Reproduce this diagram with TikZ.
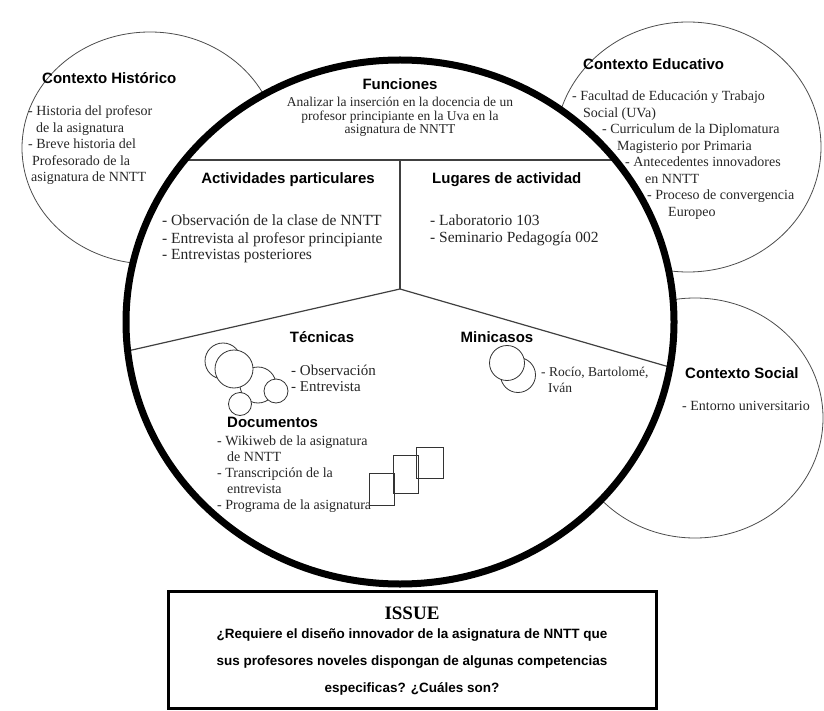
\documentclass[tikz,border=0pt]{standalone}
\usepackage{fontspec}
\setmainfont{Liberation Serif}
\newfontfamily\headfont{Liberation Sans}
\usetikzlibrary{positioning}

\begin{document}
\begin{tikzpicture}[x=1pt,y=-1pt,
  titulo/.style={font=\headfont\bfseries\fontsize{15}{17}\selectfont, inner sep=0pt},
  texto/.style={font=\fontsize{14}{16.5}\selectfont, align=left, inner sep=0pt, text=black!85},
  contexto/.style={draw=black!70, line width=0.8pt},
  divisor/.style={draw=black!75, line width=1.2pt},
  icono/.style={draw=black!80, line width=0.8pt, fill=white},
  hoja/.style={draw=black!80, line width=0.9pt}]
\useasboundingbox (0,0) rectangle (824,711);

% contextos
\draw[contexto] (150,148) ellipse [x radius=128, y radius=116];
\draw[contexto] (688,147) ellipse [x radius=133, y radius=125];
\draw[contexto] (695,418) ellipse [x radius=128, y radius=120];

% circulo central
\coordinate (centro) at (400,322);
\coordinate (vertice) at (400,289);
\coordinate (izq) at (110,355);
\coordinate (der) at (690,373);
\fill[white] (centro) ellipse [x radius=274, y radius=262];
\begin{scope}
  \clip (centro) ellipse [x radius=274, y radius=262];
  \draw[divisor] (100,160) -- (700,160);
  \draw[divisor] (400,160) -- (vertice);
  \draw[divisor] (izq) -- (vertice) -- (der);
\end{scope}

% contexto historico (base = ultima linea)
\node[titulo, anchor=base west] (historico) at (42,84) {Contexto Histórico};
\node[texto, anchor=base west] (historia) at (28,182)
  {- Historia del profesor\\\hspace*{8pt}de la asignatura\\- Breve historia del\\\hspace*{4pt}Profesorado de la\\\hspace*{3pt}asignatura de NNTT};

% contexto educativo
\node[titulo, anchor=base west] (educativo) at (583,70) {Contexto Educativo};
\node[texto, anchor=base west] (facultad) at (572,216.5)
  {- Facultad de Educación y Trabajo\\\hspace*{11pt}Social (UVa)\\\hspace*{30pt}- Curriculum de la Diplomatura\\\hspace*{45pt}Magisterio por Primaria\\\hspace*{53pt}- Antecedentes innovadores\\\hspace*{73pt}en NNTT\\\hspace*{75pt}- Proceso de convergencia\\\hspace*{96pt}Europeo};

% contexto social
\node[titulo, anchor=base west] (social) at (685,378) {Contexto Social};
\node[texto, anchor=base west] (entorno) at (682,410) {- Entorno universitario};

% funciones
\node[titulo, anchor=base] (funciones) at (400,90) {Funciones};
\node[texto, align=center, anchor=base, font=\fontsize{13.5}{13.5}\selectfont] (analizar) at (400,134)
  {Analizar la inserción en la docencia de un\\profesor principiante en la Uva en la\\asignatura de NNTT};

% actividades y lugares
\node[titulo, anchor=base] (actividades) at (288,184) {Actividades particulares};
\node[texto, anchor=base west, font=\fontsize{15.5}{17}\selectfont] (observacion) at (162,260)
  {- Observación de la clase de NNTT\\- Entrevista al profesor principiante\\- Entrevistas posteriores};
\node[titulo, anchor=base west] (lugares) at (432,184) {Lugares de actividad};
\node[texto, anchor=base west, font=\fontsize{15.5}{17}\selectfont] (laboratorio) at (430,243)
  {- Laboratorio 103\\- Seminario Pedagogía 002};

% tecnicas
\node[titulo, anchor=base] (tecnicas) at (322,342) {Técnicas};
\draw[icono] (258,385) circle (18);
\draw[icono] (223,361) circle (18);
\draw[icono] (234,369) circle (19);
\draw[icono] (276,391) circle (12);
\draw[icono] (240,404) circle (11.5);
\node[texto, anchor=base west, font=\fontsize{15}{16}\selectfont] (entrevista) at (291,391)
  {- Observación\\- Entrevista};

% minicasos
\node[titulo, anchor=base] (minicasos) at (497,342) {Minicasos};
\draw[icono] (518,375) circle (17.5);
\draw[icono] (507,363) circle (17.5);
\node[texto, anchor=base west, font=\fontsize{13.5}{16}\selectfont] (casos) at (541,392)
  {- Rocío, Bartolomé,\\\hspace*{7pt}Iván};

% documentos
\node[titulo, anchor=base west] (documentos) at (227,427) {Documentos};
\node[texto, anchor=base west, font=\fontsize{14}{16}\selectfont] (wikiweb) at (217,509)
  {- Wikiweb de la asignatura\\\hspace*{10pt}de NNTT\\- Transcripción de la\\\hspace*{10pt}entrevista\\- Programa de la asignatura};
\draw[hoja] (369,473) rectangle (394,505);
\draw[hoja] (393,455) rectangle (418,493);
\draw[hoja] (416,447) rectangle (443,478);

% borde del circulo
\draw[line width=7pt] (centro) ellipse [x radius=274, y radius=262];

% issue
\draw[line width=3pt] (168,591) rectangle (656,708);
\node[anchor=base, font=\bfseries\fontsize{19}{19}\selectfont, inner sep=0pt] (issue) at (412,619) {ISSUE};
\node[anchor=base, align=center, inner sep=0pt, font=\headfont\bfseries\fontsize{13.5}{27}\selectfont] (pregunta) at (412,692)
  {¿Requiere el diseño innovador de la asignatura de NNTT que\\sus profesores noveles dispongan de algunas competencias\\especificas? ¿Cuáles son?};
\end{tikzpicture}
\end{document}
